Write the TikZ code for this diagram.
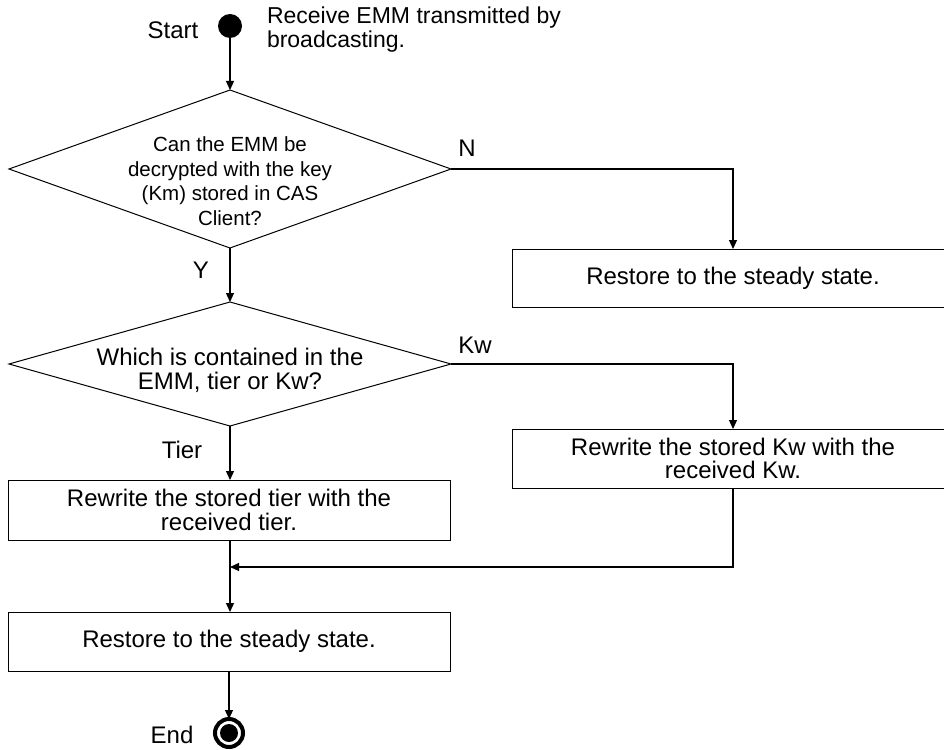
\documentclass[tikz,border=0pt]{standalone}
\usepackage{fontspec}
\setmainfont{Liberation Sans}
\usetikzlibrary{shapes.geometric,arrows.meta}
\begin{document}
\begin{tikzpicture}[x=1pt,y=-1pt,
  every node/.style={inner sep=0pt, outer sep=0pt},
  txt/.style={font=\fontsize{24}{24}\selectfont, align=center},
  smalltxt/.style={font=\fontsize{20.5}{24.5}\selectfont, align=center},
  boxtxt/.style={font=\fontsize{24}{23.5}\selectfont, align=center},
  decision/.style={draw, line width=1pt, diamond, minimum width=442pt},
  process/.style={draw, line width=1pt, rectangle, minimum width=442pt},
  flow/.style={line width=1.2pt, -{Triangle[length=9pt,width=8pt]}},
  plain/.style={line width=1.2pt},
  startdot/.style={circle, fill=black, minimum size=24pt},
]
\useasboundingbox (0,0) rectangle (944,749);

% start
\node[startdot] (start) at (230,26) {};
\node[txt] (startlbl) at (173,30) {Start};
\node[txt, font=\fontsize{23}{24}\selectfont, anchor=west, align=left] (recv) at (267,30)
  {Receive EMM transmitted by\\broadcasting.};

% first decision
\node[decision, minimum height=158pt] (d1) at (230,169) {};
\node[smalltxt] (d1txt) at (230,181)
  {Can the EMM be\\decrypted with the key\\(Km) stored in CAS\\Client?};
\node[txt] (nlbl) at (467,148) {N};
\node[process, minimum height=58pt, boxtxt] (r1) at (733,278)
  {Restore to the steady state.};

% second decision
\node[txt] (ylbl) at (201,270) {Y};
\node[decision, minimum height=124pt] (d2) at (230,364) {};
\node[txt] (d2txt) at (230,370) {Which is contained in the\\EMM, tier or Kw?};
\node[txt] (kwlbl) at (475,345) {Kw};
\node[process, minimum height=59pt, boxtxt] (r2) at (733,458.5)
  {Rewrite the stored Kw with the\\received Kw.};

% tier branch
\node[txt] (tierlbl) at (182,450) {Tier};
\node[process, minimum height=60pt, boxtxt] (t) at (229,510)
  {Rewrite the stored tier with the\\received tier.};

% merge and end
\coordinate (j) at (230,567);
\node[process, minimum height=59pt, boxtxt] (e) at (229,641.5)
  {Restore to the steady state.};
\node[circle, draw, line width=4pt, minimum size=28pt] (end) at (229,733) {};
\node[circle, fill=black, minimum size=18pt] (endin) at (end) {};
\node[txt] (endlbl) at (172,735) {End};

% connectors
\draw[flow] (start) -- (d1.north);
\draw[flow] (d1.east) -| (r1.north);
\draw[flow] (d1.south) -- (d2.north);
\draw[flow] (d2.east) -| (r2.north);
\draw[flow] (d2.south) -- (t.north -| d2.south);
\draw[plain] (t.south -| j) -- (j);
\draw[flow] (r2.south) |- (j);
\draw[flow] (j) -- (e.north -| j);
\draw[flow] (e.south) -- (end.north);
\end{tikzpicture}
\end{document}
